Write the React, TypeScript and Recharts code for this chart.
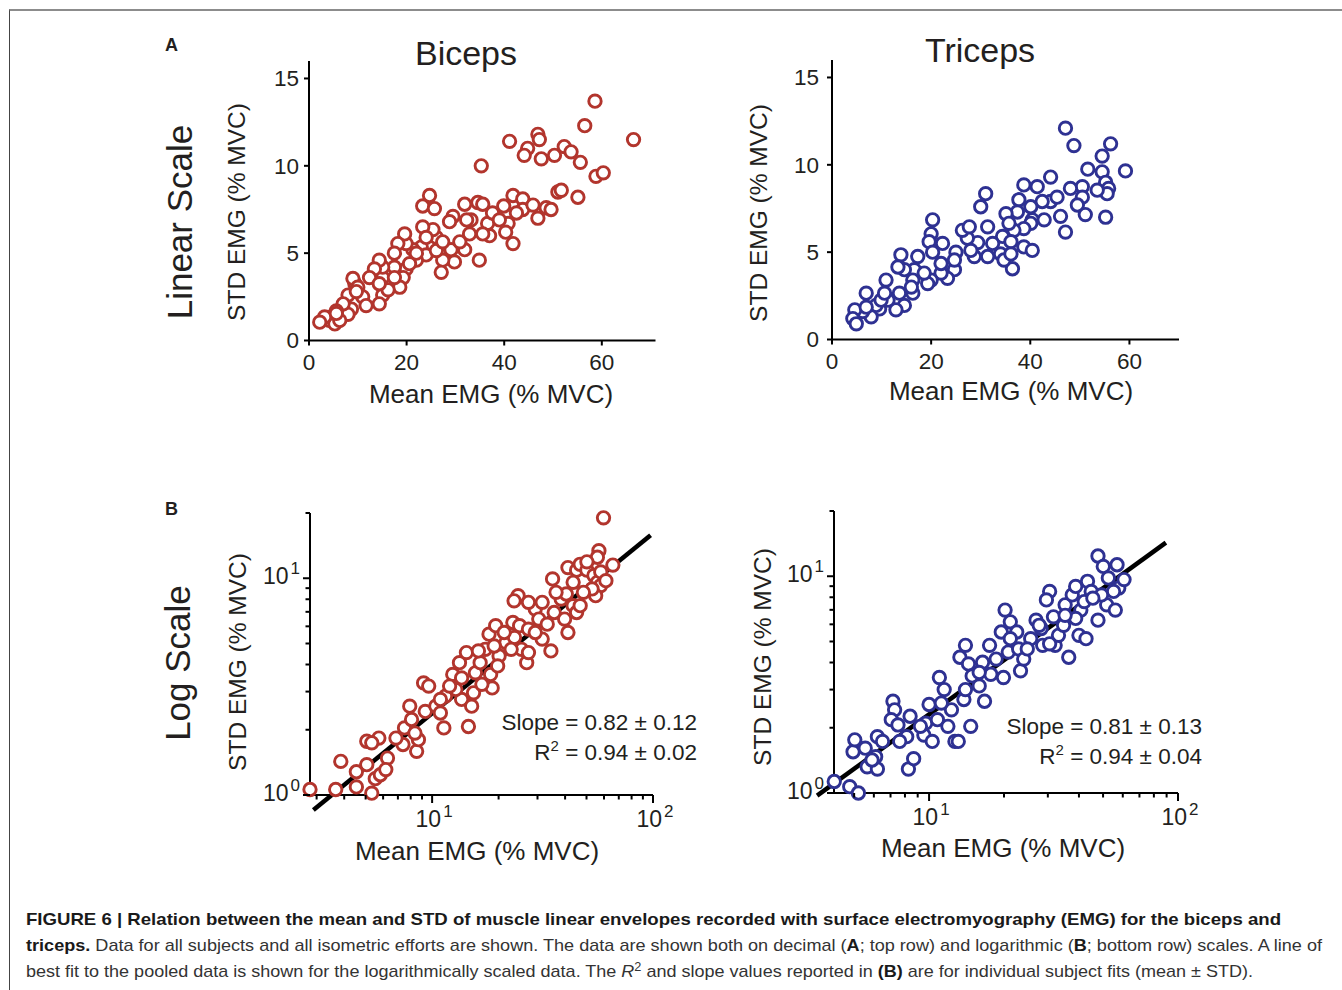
import { ReferenceLine, Scatter, ScatterChart, XAxis, YAxis } from "recharts";

const FONT = '"Liberation Sans", Arial, Helvetica, sans-serif';
const INK = "#231f20";
const RED = "#b2352d";
const BLUE = "#2e3192";

// linear-scale panels (row A)
const bicepsMean = [58.6, 56.5, 66.5, 41.1, 46.9, 47.2, 44.8, 44.1, 47.6, 50.3, 52.3, 53.7, 55.6, 35.3, 58.8, 60.3, 55.1, 51.0, 51.7, 41.8, 43.8, 39.9, 43.8, 46.9, 48.6, 49.6, 40.8, 41.8, 40.3, 36.6, 37.0, 37.6, 34.6, 35.6, 31.9, 33.2, 32.9, 34.9, 31.9, 29.5, 28.8, 26.1, 29.1, 29.8, 27.4, 27.1, 25.4, 23.3, 24.7, 25.7, 23.3, 23.0, 24.0, 22.0, 21.3, 19.9, 19.6, 18.2, 17.5, 19.9, 19.3, 18.6, 17.5, 15.1, 15.1, 14.4, 16.2, 15.1, 14.4, 13.4, 12.4, 11.0, 11.7, 9.4, 9.0, 10.0, 8.0, 8.7, 8.0, 7.0, 5.3, 5.6, 4.6, 4.2, 5.3, 3.2, 2.2, 6.3, 5.6, 9.7, 14.4, 17.5, 20.6, 22.0, 26.1, 30.9, 35.6, 39.0, 42.5, 45.9, 32.3, 27.4, 24.0];
const bicepsStd = [13.7, 12.3, 11.5, 11.4, 11.8, 11.5, 11.0, 10.6, 10.4, 10.6, 11.1, 10.8, 10.2, 10.0, 9.4, 9.6, 8.2, 8.5, 8.6, 8.3, 8.1, 7.7, 7.5, 7.0, 7.6, 7.5, 6.7, 5.55, 6.2, 6.7, 6.0, 7.3, 7.9, 7.8, 7.8, 6.9, 6.1, 4.6, 5.2, 7.1, 6.8, 5.9, 5.2, 4.5, 4.6, 3.9, 6.35, 7.7, 8.3, 7.55, 6.5, 5.35, 4.9, 4.6, 5.2, 5.55, 6.1, 5.55, 5.0, 4.1, 3.6, 3.05, 4.2, 3.6, 2.6, 2.1, 2.9, 4.2, 4.6, 4.1, 3.6, 2.5, 2.0, 3.25, 3.55, 3.05, 2.6, 1.8, 1.5, 2.1, 1.45, 1.7, 1.35, 1.15, 0.95, 1.35, 1.05, 1.15, 1.55, 2.8, 3.25, 3.6, 4.4, 5.0, 5.15, 5.65, 6.1, 6.9, 7.3, 7.75, 6.9, 5.65, 5.9];
const tricepsMean = [47.1, 48.8, 56.2, 54.5, 59.2, 51.6, 54.5, 50.5, 48.1, 55.2, 55.8, 55.5, 50.5, 49.5, 51.1, 55.2, 47.1, 46.1, 44.1, 44.1, 41.4, 42.4, 38.7, 40.1, 37.7, 37.4, 40.4, 40.1, 38.7, 36.7, 35.1, 34.4, 36.1, 36.4, 38.7, 40.4, 34.0, 34.7, 31.0, 30.0, 31.4, 31.4, 29.4, 28.7, 27.3, 26.3, 27.7, 25.0, 24.7, 23.3, 22.3, 22.0, 20.3, 20.0, 19.6, 20.3, 20.0, 19.3, 17.3, 16.6, 16.3, 16.3, 14.6, 13.9, 13.3, 13.6, 14.6, 12.9, 10.9, 11.3, 9.6, 8.9, 6.9, 7.9, 6.2, 4.6, 4.2, 4.9, 6.9, 9.9, 10.6, 16.0, 18.6, 22.0, 24.7, 28.0, 32.4, 35.7, 36.1, 42.8, 45.4, 53.5];
const tricepsStd = [12.1, 11.1, 11.2, 10.5, 9.65, 9.75, 9.6, 8.75, 8.65, 9.0, 8.65, 8.35, 8.15, 7.7, 7.15, 7.0, 6.15, 7.05, 9.3, 7.9, 8.75, 7.9, 8.85, 7.6, 8.0, 7.3, 6.85, 6.65, 6.35, 6.25, 7.2, 5.9, 5.6, 4.05, 5.3, 5.1, 4.9, 4.55, 8.35, 7.6, 6.45, 4.75, 5.55, 4.75, 5.8, 6.25, 6.45, 5.0, 4.0, 3.5, 5.5, 3.8, 6.85, 6.05, 5.6, 5.0, 3.4, 3.2, 4.75, 4.0, 3.4, 2.65, 4.0, 4.85, 4.15, 2.65, 1.95, 1.7, 3.4, 2.25, 1.75, 1.95, 2.65, 1.3, 1.6, 1.7, 1.2, 0.9, 1.85, 2.25, 2.65, 3.0, 3.8, 4.35, 4.55, 5.1, 5.5, 6.65, 4.9, 6.85, 8.15, 8.55];

// log-scale panels (row B)
const bicepsLogMean = [2.8, 3.66, 3.86, 4.54, 5.33, 5.06, 5.53, 5.83, 5.06, 5.74, 5.33, 6.28, 7.38, 7.5, 7.92, 8.07, 8.51, 8.67, 9.15, 9.65, 9.31, 10.4, 10.9, 11.3, 11.5, 12.4, 13.3, 14.3, 13.6, 15.1, 14.6, 15.4, 12.8, 15.7, 16.5, 17.4, 18.1, 19.4, 18.7, 18.4, 20.1, 21.6, 23.2, 24.5, 23.5, 24.9, 23.6, 25.4, 26.8, 27.3, 29.3, 30.4, 31.5, 33.2, 31.5, 34.5, 35.1, 35.7, 38.4, 40.5, 39.8, 41.2, 43.5, 45.1, 46.8, 41.2, 45.1, 46.8, 50.2, 54, 56, 58, 56.9, 56, 65.8, 58, 55, 53, 59.7, 61.2, 50.2, 43.5, 22.8, 19.8, 16.8, 16.2, 13.6, 12.0, 10.9, 8.36, 6.86, 6.17, 4.54, 27.3, 29.3, 36.4, 48.4, 27.3, 21.2, 19.1];
const bicepsLogStd = [1.06, 1.06, 1.43, 1.09, 1.02, 1.38, 1.19, 1.24, 1.77, 1.83, 1.74, 1.48, 1.71, 2.04, 2.57, 2.23, 1.59, 1.8, 3.29, 3.18, 2.43, 2.57, 2.39, 2.04, 2.86, 3.6, 4.08, 4.54, 2.76, 2.57, 2.07, 2.96, 3.07, 3.66, 4.08, 4.7, 5.52, 6.04, 3.12, 3.6, 4.38, 5.05, 6.25, 8.31, 7.87, 6.04, 5.33, 4.7, 4.08, 4.54, 7.21, 6.48, 5.24, 6.14, 7.74, 4.62, 9.93, 6.95, 8.02, 8.46, 6.48, 5.62, 7.47, 6.95, 7.47, 11.2, 10.9, 11.6, 10.9, 10.3, 9.58, 10.7, 13.4, 12.5, 11.5, 9.25, 8.31, 8.93, 19.0, 9.75, 11.9, 9.58, 4.7, 3.94, 3.24, 4.62, 3.47, 3.18, 2.76, 1.93, 1.83, 1.31, 1.28, 5.82, 5.62, 8.61, 8.61, 7.74, 5.62, 4.87];
const tricepsLogMean = [4.16, 4.8, 5.2, 4.95, 5.03, 5.54, 5.64, 6.2, 6.1, 6.2, 6.5, 7.16, 7.27, 7.05, 7.5, 8.13, 8.39, 8.26, 8.67, 9.53, 9.69, 10, 10.3, 10.8, 11.0, 11.5, 11.9, 12.7, 13.1, 13.3, 14.0, 14.4, 13.8, 14.0, 14.7, 14.9, 15.9, 16.7, 16.4, 17.5, 17.7, 19.5, 20.2, 19.9, 20.8, 21.2, 22.5, 23.3, 22.9, 24, 25.6, 26.9, 28.2, 28.6, 30.5, 29.6, 31.6, 32.1, 33.1, 34.7, 36.4, 35.2, 37.6, 38.8, 40.0, 40.7, 42.0, 43.3, 44.8, 47.7, 47.7, 50.1, 51.7, 52.5, 56, 56.9, 57.8, 60.7, 55.1, 49.3, 45.5, 38.8, 35.2, 30.5, 27.7, 24.8, 21.2, 18.6, 15.9, 12.3, 11.2, 9.23, 7.62, 5.9, 42.7];
const tricepsLogStd = [1.13, 1.07, 1.0, 1.55, 1.76, 1.61, 1.32, 1.29, 1.47, 1.82, 1.73, 2.65, 2.42, 2.18, 2.06, 1.82, 2.26, 1.29, 1.44, 1.85, 2.1, 2.56, 1.73, 2.18, 3.41, 3.0, 2.03, 1.73, 1.73, 4.23, 4.8, 3.94, 2.7, 3.0, 2.03, 3.47, 3.12, 2.65, 4.01, 4.8, 3.53, 5.53, 6.98, 3.41, 4.47, 6.16, 5.53, 3.66, 4.62, 4.15, 5.15, 6.27, 5.74, 4.8, 8.51, 7.78, 6.5, 4.8, 5.34, 5.94, 4.23, 7.38, 8.2, 8.98, 5.34, 6.98, 7.64, 9.48, 8.51, 6.27, 12.4, 11.1, 7.38, 9.82, 6.98, 11.3, 8.82, 9.65, 8.51, 8.2, 7.92, 6.39, 6.6, 4.88, 5.94, 4.62, 5.15, 4.15, 3.6, 2.42, 2.6, 2.03, 1.73, 1.42, 5.15];

// pooled log-log fit lines (end points)
const bicepsFit = [{ x: 2.9, y: 0.852 }, { x: 97.5, y: 15.8 }];
const tricepsFit = [{ x: 3.55, y: 0.972 }, { x: 89.4, y: 14.3 }];

const linXTicks = [0, 20, 40, 60];
const linYTicks = [0, 5, 10, 15];
const logYTicks = [1, 2, 3, 4, 5, 6, 7, 8, 9, 10, 20];
const bicepsLogXTicks = [3, 4, 5, 6, 7, 8, 9, 10, 20, 30, 40, 50, 60, 70, 80, 90, 100];
const tricepsLogXTicks = [5, 6, 7, 8, 9, 10, 20, 30, 40, 50, 60, 70, 80, 90, 100];

type Box = { x: number; y: number; w: number; h: number };
const PAD = { l: 110, t: 30, r: 40, b: 90 };
const YW = 60;
const XH = 40;
const axisStroke = { stroke: "#000", strokeWidth: 2 };

const toPoints = (xs: number[], ys: number[]) => xs.map((x, i) => ({ x, y: ys[i] }));

const ring = (color: string) => (p: any) => (
  <circle cx={p.cx} cy={p.cy} r={6.2} fill="#fff" stroke={color} strokeWidth={2.9} />
);

const isMajor = (v: number) => v === 1 || v === 10 || v === 100;

function LogTickX(p: any) {
  const v = p.payload.value;
  const major = isMajor(v);
  return (
    <g>
      <line x1={p.x} x2={p.x} y1={p.y} y2={p.y + (major ? 8 : 4.5)} stroke="#000" strokeWidth={2} />
      {major && (
        <text x={p.x + 2} y={p.y + 32} textAnchor="middle" fontSize={23} fill={INK} fontFamily={FONT}>
          10<tspan dx={2} dy={-10} fontSize={17}>{Math.round(Math.log10(v))}</tspan>
        </text>
      )}
    </g>
  );
}

function LogTickY(p: any) {
  const v = p.payload.value;
  const major = isMajor(v);
  return (
    <g>
      <line x1={p.x} x2={p.x - (major ? 7 : 4.5)} y1={p.y} y2={p.y} stroke="#000" strokeWidth={2} />
      {major && (
        <text x={p.x - 10} y={p.y + 6} textAnchor="end" fontSize={23} fill={INK} fontFamily={FONT}>
          10<tspan dx={2} dy={-10} fontSize={17}>{Math.round(Math.log10(v))}</tspan>
        </text>
      )}
    </g>
  );
}

function Frame({ box, children }: { box: Box; children: React.ReactNode }) {
  return (
    <div style={{ position: "absolute", left: box.x - PAD.l, top: box.y - PAD.t }}>
      <ScatterChart
        width={box.w + PAD.l + PAD.r}
        height={box.h + PAD.t + PAD.b}
        margin={{ left: PAD.l - YW, top: PAD.t, right: PAD.r, bottom: PAD.b - XH }}
      >
        {children}
      </ScatterChart>
    </div>
  );
}

function LinearPanel({ box, xMax, xs, ys, color, gap }: { box: Box; xMax: number; xs: number[]; ys: number[]; color: string; gap: number }) {
  const tick = { fontSize: 22.5, fill: INK, fontFamily: FONT };
  return (
    <Frame box={box}>
      <XAxis type="number" dataKey="x" domain={[0, xMax]} ticks={linXTicks} interval={0} height={XH}
        axisLine={axisStroke} tickLine={axisStroke} tickSize={5} tickMargin={9} tick={tick} />
      <YAxis type="number" dataKey="y" domain={[0, 16]} ticks={linYTicks} interval={0} width={YW}
        axisLine={axisStroke} tickLine={axisStroke} tickSize={5} tickMargin={gap} tick={tick} />
      <Scatter data={toPoints(xs, ys)} shape={ring(color)} isAnimationActive={false} />
    </Frame>
  );
}

function LogPanel({ box, xMin, xTicks, xs, ys, color, fit }: { box: Box; xMin: number; xTicks: number[]; xs: number[]; ys: number[]; color: string; fit: { x: number; y: number }[] }) {
  return (
    <Frame box={box}>
      <XAxis type="number" dataKey="x" scale="log" domain={[xMin, 100]} ticks={xTicks} interval={0} height={XH}
        axisLine={axisStroke} tickLine={false} tickSize={0} tickMargin={0} tick={LogTickX} />
      <YAxis type="number" dataKey="y" scale="log" domain={[1, 20]} ticks={logYTicks} interval={0} width={YW}
        axisLine={axisStroke} tickLine={false} tickSize={0} tickMargin={0} tick={LogTickY} />
      <Scatter data={toPoints(xs, ys)} shape={ring(color)} isAnimationActive={false} />
      <ReferenceLine segment={fit} stroke="#000" strokeWidth={4.5} ifOverflow="visible" />
    </Frame>
  );
}

const txt = { fill: INK, fontFamily: FONT };

function Rotated({ x, y, size, children }: { x: number; y: number; size: number; children: React.ReactNode }) {
  return (
    <text x={x} y={y} transform={`rotate(-90 ${x} ${y})`} textAnchor="middle" fontSize={size} {...txt}>
      {children}
    </text>
  );
}

function Stats({ x, y, slope, r2 }: { x: number; y: number; slope: string; r2: string }) {
  return (
    <g fontSize={22.5} {...txt}>
      <text x={x} y={y} textAnchor="end">{`Slope = ${slope}`}</text>
      <text x={x} y={y + 30} textAnchor="end">
        R<tspan dy={-9} fontSize={15}>2</tspan><tspan dy={9}>{` = ${r2}`}</tspan>
      </text>
    </g>
  );
}

export default function App() {
  return (
    <div style={{ position: "absolute", left: 0, top: 0, width: 1342, height: 990, background: "#fff", overflow: "hidden" }}>
      <div style={{ position: "absolute", left: 9, top: 9, width: 1333, height: 981, borderTop: "2px solid #8c8c8c", borderLeft: "1px solid #444" }} />

      <LinearPanel box={{ x: 309, y: 60.5, w: 346.5, h: 279.5 }} xMax={71} xs={bicepsMean} ys={bicepsStd} color={RED} gap={5} />
      <LinearPanel box={{ x: 832, y: 60, w: 347, h: 279.5 }} xMax={70} xs={tricepsMean} ys={tricepsStd} color={BLUE} gap={8} />
      <LogPanel box={{ x: 310, y: 513, w: 343, h: 282 }} xMin={2.8} xTicks={bicepsLogXTicks} xs={bicepsLogMean} ys={bicepsLogStd} color={RED} fit={bicepsFit} />
      <LogPanel box={{ x: 834, y: 511, w: 344, h: 282 }} xMin={4.15} xTicks={tricepsLogXTicks} xs={tricepsLogMean} ys={tricepsLogStd} color={BLUE} fit={tricepsFit} />

      <svg width={1342} height={990} style={{ position: "absolute", left: 0, top: 0, pointerEvents: "none" }}>
        <text x={165} y={51} fontSize={18} fontWeight="bold" {...txt}>A</text>
        <text x={165} y={515} fontSize={18} fontWeight="bold" {...txt}>B</text>

        <text x={466} y={65} textAnchor="middle" fontSize={34} {...txt}>Biceps</text>
        <text x={980} y={62} textAnchor="middle" fontSize={34} {...txt}>Triceps</text>

        <Rotated x={192} y={222} size={35}>Linear Scale</Rotated>
        <Rotated x={190} y={663} size={35}>Log Scale</Rotated>

        <Rotated x={245} y={212} size={24.5}>STD EMG (% MVC)</Rotated>
        <Rotated x={767} y={213} size={24.5}>STD EMG (% MVC)</Rotated>
        <Rotated x={246} y={662} size={24.5}>STD EMG (% MVC)</Rotated>
        <Rotated x={771} y={657} size={24.5}>STD EMG (% MVC)</Rotated>

        <text x={491} y={403} textAnchor="middle" fontSize={26} {...txt}>Mean EMG (% MVC)</text>
        <text x={1011} y={400} textAnchor="middle" fontSize={26} {...txt}>Mean EMG (% MVC)</text>
        <text x={477} y={860} textAnchor="middle" fontSize={26} {...txt}>Mean EMG (% MVC)</text>
        <text x={1003} y={857} textAnchor="middle" fontSize={26} {...txt}>Mean EMG (% MVC)</text>

        <Stats x={697} y={730} slope="0.82 ± 0.12" r2="0.94 ± 0.02" />
        <Stats x={1202} y={734} slope="0.81 ± 0.13" r2="0.94 ± 0.04" />

        <g fontSize={17} fontFamily={FONT} style={{ whiteSpace: "pre" }}>
          <text x={26} y={925} fontWeight="bold" fill="#1a1a1a" textLength={1255} lengthAdjust="spacingAndGlyphs">
            {"FIGURE 6 | Relation between the mean and STD of muscle linear envelopes recorded with surface electromyography (EMG) for the biceps and"}
          </text>
          <text x={26} y={951} fill="#333" textLength={1296} lengthAdjust="spacingAndGlyphs">
            <tspan fontWeight="bold" fill="#1a1a1a">{"triceps."}</tspan>
            {" Data for all subjects and all isometric efforts are shown. The data are shown both on decimal ("}
            <tspan fontWeight="bold" fill="#1a1a1a">A</tspan>
            {"; top row) and logarithmic ("}
            <tspan fontWeight="bold" fill="#1a1a1a">B</tspan>
            {"; bottom row) scales. A line of"}
          </text>
          <text x={26} y={977} fill="#333" textLength={1227} lengthAdjust="spacingAndGlyphs">
            {"best fit to the pooled data is shown for the logarithmically scaled data. The "}
            <tspan fontStyle="italic">R</tspan>
            <tspan dy={-6} fontSize={12}>2</tspan>
            <tspan dy={6}>{" and slope values reported in "}</tspan>
            <tspan fontWeight="bold" fill="#1a1a1a">(B)</tspan>
            {" are for individual subject fits (mean ± STD)."}
          </text>
        </g>
      </svg>
    </div>
  );
}
